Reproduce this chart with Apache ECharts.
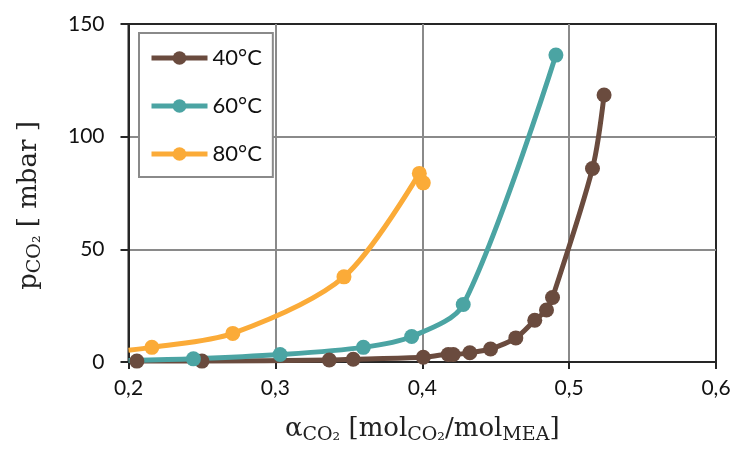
<!DOCTYPE html>
<html>
<head>
<meta charset="utf-8">
<script src="https://cdn.jsdelivr.net/npm/echarts@6/dist/echarts.min.js"></script>
<style>
  html, body { margin: 0; padding: 0; background: #fff; }
  #chart { width: 736px; height: 453px; }
</style>
</head>
<body>
<div id="chart"></div>
<script>
// loading alpha_CO2 [mol/mol] vs partial pressure p_CO2 [mbar]
const seriesNames = ["40°C", "60°C", "80°C"];
const seriesColors = ["#6a4b3e", "#4ba4a3", "#fbab38"];

const alpha40 = [0.2057, 0.250, 0.3367, 0.353, 0.4007, 0.4177, 0.4211, 0.4324, 0.4465, 0.4637, 0.4766, 0.4846, 0.4887, 0.5159, 0.5238];
const p40     = [0.4,    0.4,   0.9,    1.2,   2.1,    3.3,    3.3,    4.1,    5.8,    10.7,   18.5,   23.1,   28.6,   85.9,   118.5];

const alpha60 = [0.2,  0.2442, 0.3032, 0.3599, 0.3928, 0.4279, 0.491];
const p60     = [0.7,  1.4,    3.3,    6.5,    11.3,   25.5,   136.2];

const alpha80 = [0.2,  0.2159, 0.271, 0.3467, 0.398];
const p80     = [5.2,  6.5,    12.7,  37.8,   83.7];
// second measurement at the end of the 80°C curve (marker only, the line stops at 83.7)
const alpha80b = [0.4007];
const p80b     = [79.5];

// the first point of the 60 / 80 curves is where the line meets the axis (no marker)
const lineStart = [false, true, true];

const xTicks = { min: 0.2, max: 0.6, interval: 0.1 };
const yTicks = { min: 0, max: 150, interval: 50 };

function makeData(xs, ys, hasStart) {
  return xs.map((x, i) => {
    const d = { value: [x, ys[i]] };
    if (hasStart && i === 0) d.symbol = "none";
    return d;
  });
}

const allX = [alpha40, alpha60, alpha80];
const allY = [p40, p60, p80];

const chart = echarts.init(document.getElementById("chart"), null, { renderer: "canvas" });

const serif = "DejaVu Serif";
function nameStyle(pad) {
  return {
    fontFamily: serif,
    color: "#222",
    padding: pad,
    rich: {
      m: { fontFamily: serif, fontSize: 26, color: "#222" },
      s: { fontFamily: serif, fontSize: 19, color: "#222", padding: [12, 0, 0, 0] }
    }
  };
}

const lineSeries = seriesNames.map((name, k) => ({
  name: name,
  type: "line",
  smooth: 0.3,
  symbol: "circle",
  symbolSize: 15,
  color: seriesColors[k],
  lineStyle: { width: 5, color: seriesColors[k] },
  itemStyle: { color: seriesColors[k] },
  data: makeData(allX[k], allY[k], lineStart[k])
}));

const option = {
  animation: false,
  backgroundColor: "#fff",
  grid: {
    left: 128.5, right: 20, top: 24, bottom: 91,
    show: true, borderColor: "#262626", borderWidth: 2
  },
  legend: {
    orient: "vertical",
    left: 139, top: 33,
    padding: [12, 11, 10, 10],
    itemWidth: 56, itemHeight: 17, itemGap: 22,
    backgroundColor: "#fff",
    borderColor: "#8a8a8a", borderWidth: 2,
    lineStyle: { width: 5 },
    textStyle: { fontFamily: "Lato", fontSize: 22, color: "#111", lineHeight: 26 },
    data: seriesNames
  },
  xAxis: {
    type: "value",
    min: xTicks.min, max: xTicks.max, interval: xTicks.interval,
    name: "{m|α}{s|CO₂}{m| [mol}{s|CO₂}{m|/mol}{s|MEA}{m|]}",
    nameLocation: "middle", nameGap: 52,
    nameTextStyle: nameStyle([0, 0, 0, 0]),
    axisLine: { lineStyle: { color: "#262626", width: 2 } },
    axisTick: { show: true, length: 7, lineStyle: { color: "#262626", width: 2 } },
    axisLabel: {
      margin: 16, fontFamily: "Lato", fontSize: 21, color: "#111",
      formatter: v => v.toFixed(1).replace(".", ",")
    },
    splitLine: { show: true, showMaxLine: false, lineStyle: { color: "#8a8a8a", width: 2 } }
  },
  yAxis: {
    type: "value",
    min: yTicks.min, max: yTicks.max, interval: yTicks.interval,
    name: "{m|p}{s|CO₂}{m| [ mbar ]}",
    nameLocation: "middle", nameGap: 84,
    nameTextStyle: nameStyle([0, 25, 0, 0]),
    axisLine: { show: true, lineStyle: { color: "#262626", width: 2 } },
    axisTick: { show: true, length: 8, lineStyle: { color: "#262626", width: 2 } },
    axisLabel: { margin: 24, fontFamily: "Lato", fontSize: 21, color: "#111" },
    splitLine: { show: true, showMaxLine: false, lineStyle: { color: "#8a8a8a", width: 2 } }
  },
  series: lineSeries.concat([{
    name: seriesNames[2],
    type: "scatter",
    symbol: "circle",
    symbolSize: 15,
    itemStyle: { color: seriesColors[2], opacity: 1 },
    data: alpha80b.map((x, i) => [x, p80b[i]])
  }])
};

chart.setOption(option);
</script>
</body>
</html>
